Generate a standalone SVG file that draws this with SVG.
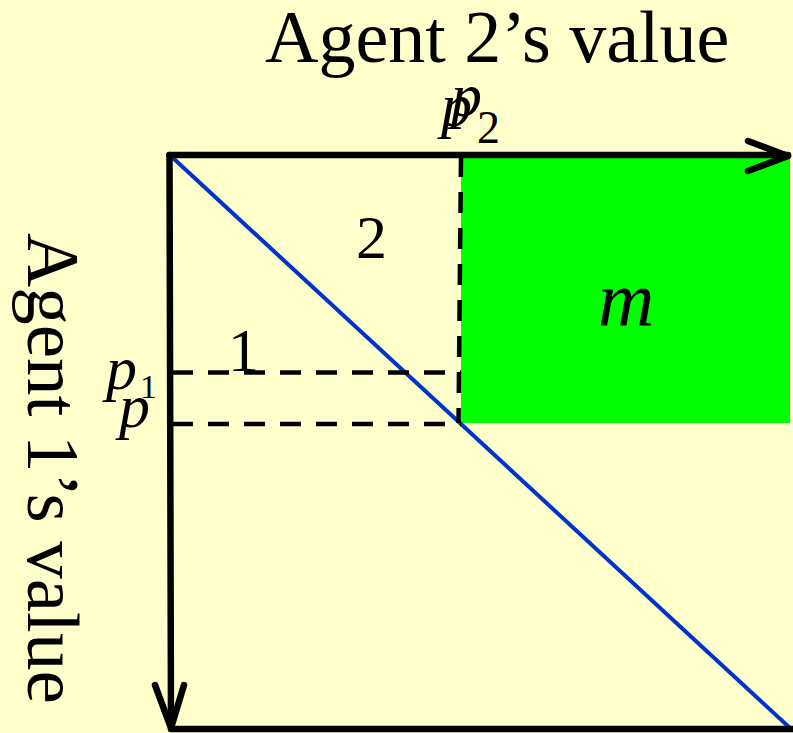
<svg xmlns="http://www.w3.org/2000/svg" width="793" height="733" viewBox="0 0 793 733">
<style>
.t{font-family:"Liberation Serif","Times New Roman",serif;fill:#000}
.i{font-style:italic}
.ax{stroke:#000;stroke-width:6.5;fill:none;stroke-linecap:round;stroke-linejoin:round}
.d{stroke:#000;stroke-width:4.5;fill:none;stroke-dasharray:21 15}
</style>
<rect width="793" height="733" fill="#FFFFCC"/>
<g id="region-m">
<rect x="461" y="158" width="329" height="265" fill="#00FF00"/>
<text class="t i" x="598" y="326" font-size="78">m</text>
</g>
<g id="connectors">
<line x1="173" y1="158" x2="790" y2="728" stroke="#0033CC" stroke-width="4"/>
<line class="d" x1="461" y1="156" x2="458.5" y2="423"/>
<line class="d" x1="172" y1="372.5" x2="461" y2="372.5"/>
<line class="d" x1="172" y1="424" x2="461" y2="424"/>
<line class="ax" x1="169.5" y1="155" x2="788" y2="155"/>
<polyline class="ax" points="748,141 788,156 748,171"/>
<line class="ax" x1="169.5" y1="155" x2="171" y2="727"/>
<polyline class="ax" points="155,685 171,728 184,685"/>
<line class="ax" x1="171" y1="729" x2="800" y2="729" stroke-linecap="butt"/>
</g>
<g id="labels">
<text class="t" x="265" y="62" font-size="74">Agent 2’s value</text>
<text class="t" transform="translate(28,233) rotate(90)" font-size="75">Agent 1’s value</text>
<text class="t" x="356" y="258" font-size="62">2</text>
<text class="t" x="228" y="371" font-size="62">1</text>
<text class="t i" x="106" y="389" font-size="62">p</text>
<text class="t" x="140" y="398" font-size="34">1</text>
<text class="t i" x="119" y="427" font-size="62">p</text>
<text class="t i" x="441" y="126" font-size="62">p</text>
<text class="t i" x="451" y="116" font-size="62">p</text>
<text class="t" x="477" y="143" font-size="46">2</text>
</g>
</svg>
